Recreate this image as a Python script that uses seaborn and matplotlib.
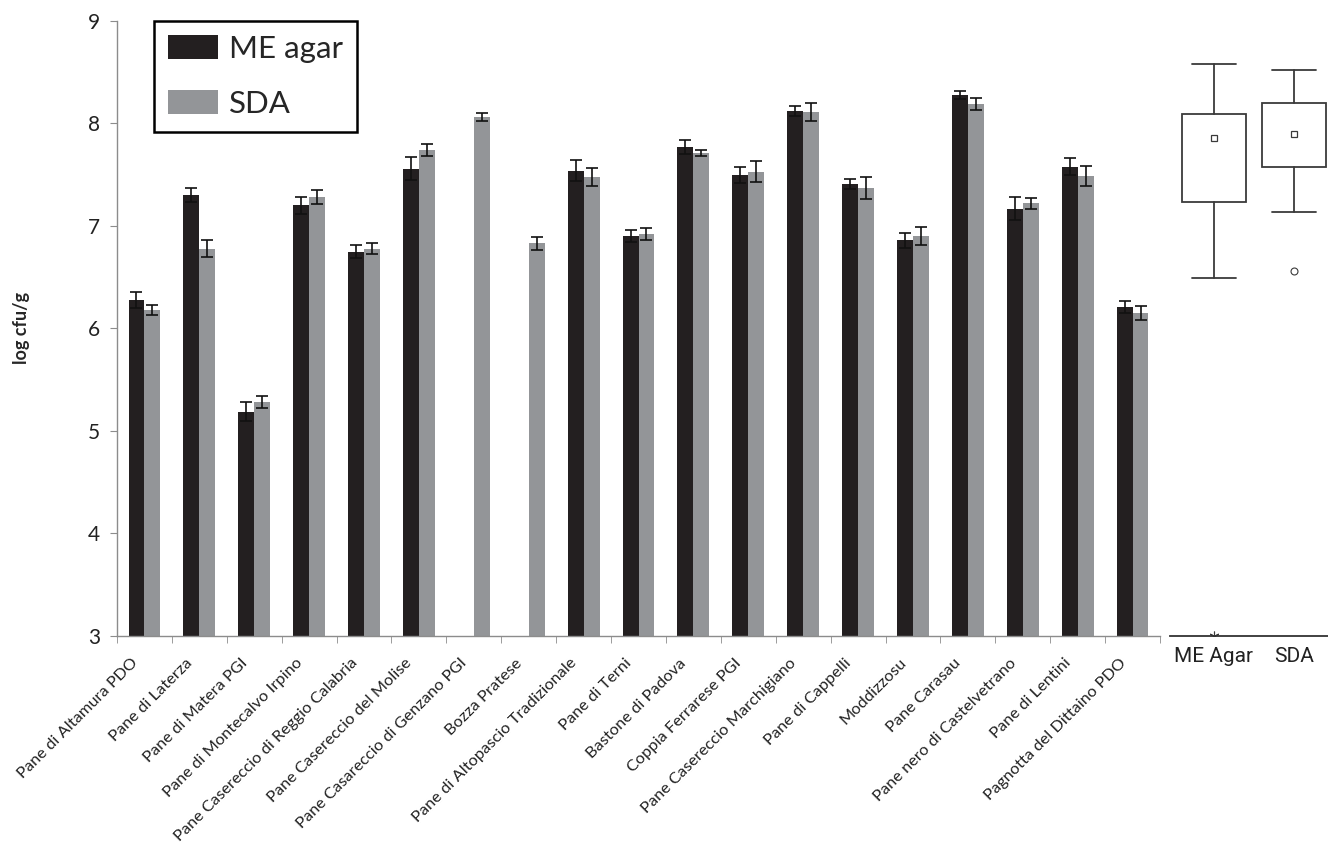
import numpy as np
import pandas as pd
import matplotlib
matplotlib.use("Agg")
import matplotlib.pyplot as plt
import matplotlib.transforms as mtransforms
import seaborn as sns
from matplotlib.patches import Patch
from matplotlib.ticker import FixedLocator

# Yeast counts (log cfu/g) on two media for Italian breads
breads = [
    "Pane di Altamura PDO", "Pane di Laterza", "Pane di Matera PGI",
    "Pane di Montecalvo Irpino", "Pane Casereccio di Reggio Calabria",
    "Pane Casereccio del Molise", "Pane Casareccio di Genzano PGI",
    "Bozza Pratese", "Pane di Altopascio Tradizionale", "Pane di Terni",
    "Bastone di Padova", "Coppia Ferrarese PGI", "Pane Casereccio Marchigiano",
    "Pane di Cappelli", "Moddizzosu", "Pane Carasau",
    "Pane nero di Castelvetrano", "Pane di Lentini", "Pagnotta del Dittaino PDO",
]
me_agar = [6.28, 7.30, 5.19, 7.20, 6.75, 7.56, np.nan, np.nan, 7.54, 6.90,
           7.77, 7.50, 8.12, 7.41, 6.86, 8.28, 7.17, 7.58, 6.21]
me_err = [0.08, 0.07, 0.09, 0.08, 0.06, 0.11, np.nan, np.nan, 0.10, 0.06,
          0.07, 0.08, 0.05, 0.05, 0.07, 0.04, 0.11, 0.08, 0.06]
sda = [6.18, 6.78, 5.28, 7.28, 6.78, 7.74, 8.06, 6.83, 7.48, 6.92,
       7.71, 7.53, 8.11, 7.37, 6.90, 8.19, 7.22, 7.49, 6.15]
sda_err = [0.05, 0.08, 0.06, 0.07, 0.05, 0.06, 0.04, 0.06, 0.09, 0.06,
           0.03, 0.10, 0.09, 0.11, 0.09, 0.06, 0.05, 0.10, 0.07]

media = ["ME agar", "SDA"]
colors = ["#231f20", "#939598"]

# Box plot summaries per medium
box_labels = ["ME Agar", "SDA"]
box_whislo = [6.49, 7.14]
box_q1 = [7.23, 7.58]
box_q3 = [8.09, 8.20]
box_whishi = [8.58, 8.52]
box_mean = [7.86, 7.90]
box_fliers = [[3.0], [6.56]]
flier_markers = [(6, 2, 0), "o"]

df = pd.DataFrame({
    "bread": breads * 2,
    "medium": [media[0]] * len(breads) + [media[1]] * len(breads),
    "value": me_agar + sda,
})
errors = {media[0]: me_err, media[1]: sda_err}

sns.set_style("white")
plt.rcParams["font.family"] = ["Lato", "DejaVu Sans"]

fig = plt.figure(figsize=(13.28, 8.5), dpi=100)
ax = fig.add_axes([0.0881, 0.2518, 0.7854, 0.7235])
ax2 = fig.add_axes([0.881, 0.2518, 0.119, 0.7235])

sns.barplot(data=df, x="bread", y="value", hue="medium", order=breads,
            hue_order=media, palette=colors, saturation=1, width=0.58,
            errorbar=None, ax=ax, legend=False, linewidth=0)

for cont, med in zip(ax.containers, media):
    xs, ys, es = [], [], []
    for p in cont.patches:
        h = p.get_height()
        if np.isnan(h):
            continue
        xc = p.get_x() + p.get_width() / 2
        idx = int(round(xc))
        xs.append(xc)
        ys.append(h)
        es.append(errors[med][idx])
    ax.errorbar(xs, ys, yerr=es, fmt="none", ecolor="#111111",
                elinewidth=1.2, capsize=4.5, capthick=1.2, zorder=5)

ax.set_xlim(-0.5, len(breads) - 0.5)
ax.set_ylim(3, 9)
ax.set_yticks(range(3, 10))
ax.tick_params(axis="y", labelsize=15, length=5, color="#8c8c8c",
               direction="out", left=True, pad=7, labelcolor="#222222")
ax.set_xlabel("")
ax.set_ylabel("log cfu/g", fontsize=13, fontweight="bold", labelpad=0)
ax.yaxis.set_label_coords(-0.083, 0.5)
ax.xaxis.set_minor_locator(FixedLocator(np.arange(-0.5, len(breads), 1.0)))
ax.set_xticks(range(len(breads)))
ax.set_xticklabels([])
ax.tick_params(axis="x", which="major", length=0)
ax.tick_params(axis="x", which="minor", length=5, color="#8c8c8c",
               direction="out", bottom=True)

# Category names, rotated, hanging below each group
name_trans = (mtransforms.blended_transform_factory(ax.transData, ax.transAxes)
              + mtransforms.ScaledTranslation(-0.09, -0.25, fig.dpi_scale_trans))
for i, name in enumerate(breads):
    ax.text(i, 0, name, transform=name_trans, rotation=45, ha="right",
            va="center", rotation_mode="anchor", fontsize=11.8,
            color="#222222", clip_on=False)

for side in ["top", "right"]:
    ax.spines[side].set_visible(False)
for side in ["left", "bottom"]:
    ax.spines[side].set_color("#8c8c8c")
    ax.spines[side].set_linewidth(1.0)

handles = [Patch(facecolor=c, edgecolor="none", label=m)
           for c, m in zip(colors, media)]
leg = ax.legend(handles=handles, loc="upper left",
                bbox_to_anchor=(0.0355, 1.0), borderaxespad=0,
                fontsize=22.5, frameon=True, fancybox=False, framealpha=1,
                edgecolor="black", handlelength=1.6, handleheight=0.8,
                labelspacing=0.85, handletextpad=0.35, borderpad=0.45)
leg.get_frame().set_linewidth(1.8)

# Box plots of all breads per medium
line_c = "#3a3a3a"
for i in range(len(box_labels)):
    stats = [{
        "label": box_labels[i], "whislo": box_whislo[i], "q1": box_q1[i],
        "med": box_mean[i], "q3": box_q3[i], "whishi": box_whishi[i],
        "mean": box_mean[i], "fliers": box_fliers[i],
    }]
    ax2.bxp(stats, positions=[i], widths=0.8, capwidths=0.56,
            showmeans=True, patch_artist=True,
            boxprops=dict(facecolor="white", edgecolor=line_c, linewidth=1.3),
            whiskerprops=dict(color=line_c, linewidth=1.3),
            capprops=dict(color=line_c, linewidth=1.3),
            medianprops=dict(linewidth=0),
            meanprops=dict(marker="s", markersize=5, markerfacecolor="white",
                           markeredgecolor=line_c, markeredgewidth=0.9),
            flierprops=dict(marker=flier_markers[i], markersize=7 if i == 0 else 5,
                            markerfacecolor="white", markeredgecolor=line_c,
                            markeredgewidth=0.8))

ax2.set_xlim(-0.55, 1.425)
ax2.set_ylim(3, 9)
ax2.set_yticks([])
ax2.set_xticks(range(len(box_labels)))
ax2.set_xticklabels(box_labels, fontsize=15, color="#222222",
                    family=["Liberation Sans Narrow", "Roboto",
                            "DejaVu Sans"])
ax2.tick_params(axis="x", length=0, pad=8)
for side in ["top", "right", "left"]:
    ax2.spines[side].set_visible(False)
ax2.spines["bottom"].set_color("#333333")
ax2.spines["bottom"].set_linewidth(1.3)

fig.savefig("out.png", dpi=100, facecolor="white")
